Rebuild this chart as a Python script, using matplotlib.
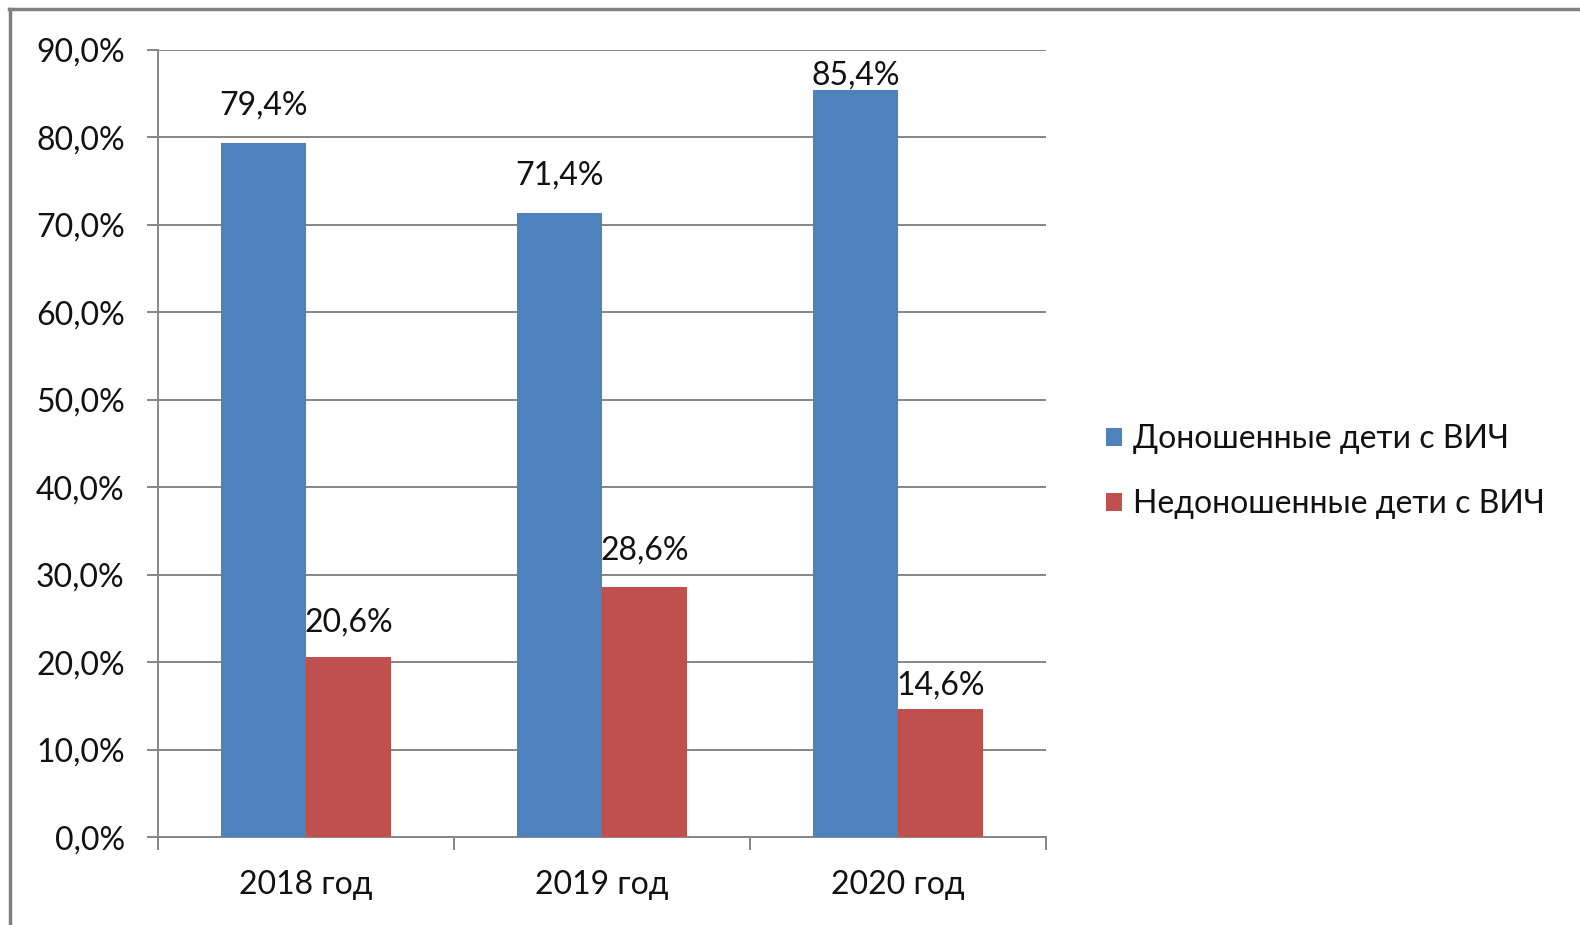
import matplotlib
matplotlib.use("Agg")
import matplotlib.pyplot as plt
from matplotlib.lines import Line2D
from matplotlib.ticker import FuncFormatter, MultipleLocator
import numpy as np

plt.rcParams['font.family'] = ['Lato', 'DejaVu Sans']

years = ['2018 год', '2019 год', '2020 год']
full_term = [79.4, 71.4, 85.4]
preterm = [20.6, 28.6, 14.6]
series_names = ['Доношенные дети с ВИЧ', 'Недоношенные дети с ВИЧ']
colors = ['#4F81BD', '#C0504D']
# label lift above each bar (points); two labels were nudged down by hand
lift_full = [20, 20, 4]
lift_pre = [18, 20, 11]

TXT = '#111111'
FS = 23

fig = plt.figure(figsize=(15.8, 9.25), dpi=100)
ax = fig.add_axes([0.1, 0.0951, 0.562, 0.8509])

x = np.arange(len(years))
w = 0.286
bars1 = ax.bar(x - w / 2, full_term, w, color=colors[0], label=series_names[0], zorder=3)
bars2 = ax.bar(x + w / 2, preterm, w, color=colors[1], label=series_names[1], zorder=3)

def pct(v):
    return f'{v:.1f}%'.replace('.', ',')

for bars, vals, lifts in ((bars1, full_term, lift_full), (bars2, preterm, lift_pre)):
    for b, v, dy in zip(bars, vals, lifts):
        ax.annotate(pct(v), (b.get_x() + b.get_width() / 2, v),
                    xytext=(0, dy), textcoords='offset points',
                    ha='center', va='baseline', fontsize=FS, color=TXT, zorder=4)

ax.set_xlim(-0.5, 2.5)
ax.set_ylim(0, 90)
ax.yaxis.set_major_locator(MultipleLocator(10))
ax.yaxis.set_major_formatter(FuncFormatter(lambda v, p: pct(v)))
ax.grid(axis='y', color='#868686', linewidth=1.4, zorder=0)

# categories: ticks sit on the group boundaries, labels in the middle
ax.set_xticks([-0.5, 0.5, 1.5, 2.5])
ax.set_xticklabels([])
ax.set_xticks(x, minor=True)
ax.set_xticklabels(years, minor=True, fontsize=FS, color=TXT)
ax.tick_params(axis='x', which='major', length=9, width=1.4, color='#868686', direction='out')
ax.tick_params(axis='x', which='minor', length=0, pad=24)
ax.tick_params(axis='y', length=8, width=1.4, color='#868686', labelsize=FS,
               labelcolor=TXT, pad=16)

for s in ('top', 'right'):
    ax.spines[s].set_visible(False)
for s in ('left', 'bottom'):
    ax.spines[s].set_color('#868686')
    ax.spines[s].set_linewidth(1.4)

fig.legend(loc='center left', bbox_to_anchor=(0.682, 0.490), frameon=False,
           fontsize=FS, handlelength=0.5, handleheight=0.5, handletextpad=0.35,
           labelspacing=1.09, labelcolor=TXT)

# outer frame (left and top edges)
fig.add_artist(Line2D([9.5 / 1580, 9.5 / 1580], [0, 1 - 8.5 / 925],
                      transform=fig.transFigure, color='#808080', linewidth=2.5))
fig.add_artist(Line2D([8.5 / 1580, 1], [1 - 8.5 / 925, 1 - 8.5 / 925],
                      transform=fig.transFigure, color='#808080', linewidth=2.5))

fig.savefig('out.png', dpi=100, facecolor='white')
